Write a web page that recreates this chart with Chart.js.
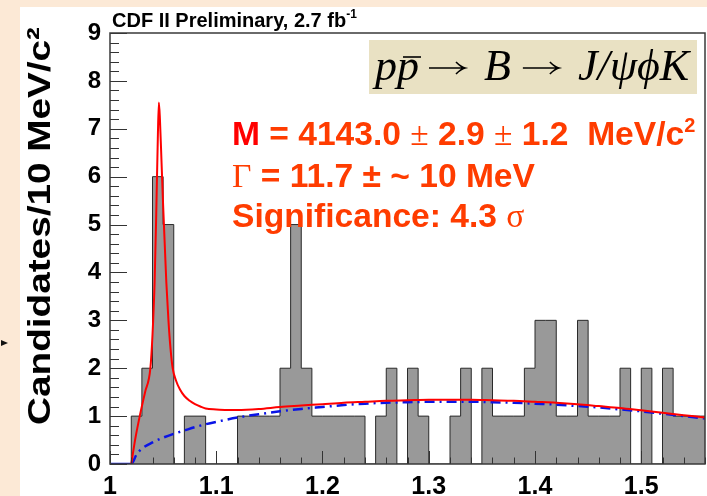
<!DOCTYPE html>
<html>
<head>
<meta charset="utf-8">
<script src="https://cdn.jsdelivr.net/npm/chart.js@4.4.1/dist/chart.umd.min.js"></script>
<style>
  html, body { margin: 0; padding: 0; }
  body { width: 707px; height: 496px; background: #fce9d6; position: relative; overflow: hidden; }
  #panel { position: absolute; left: 20px; top: 7px; width: 687px; height: 489px; background: #fff; }
  #panel canvas { display: block; }
  #arrow { position: absolute; left: 1px; top: 340px; width: 0; height: 0;
           border-left: 7px solid #111; border-top: 3px solid transparent; border-bottom: 3px solid transparent; }
</style>
</head>
<body>
<div id="arrow"></div>
<div id="panel"><canvas id="chart" width="687" height="489" style="width:687px;height:489px"></canvas></div>
<script>
// histogram: lower bin edges (GeV) and candidates per 10 MeV bin
const binLow = [1.00,1.01,1.02,1.03,1.04,1.05,1.06,1.07,1.08,1.09,1.10,1.11,1.12,1.13,1.14,1.15,1.16,1.17,1.18,1.19,
                1.20,1.21,1.22,1.23,1.24,1.25,1.26,1.27,1.28,1.29,1.30,1.31,1.32,1.33,1.34,1.35,1.36,1.37,1.38,1.39,
                1.40,1.41,1.42,1.43,1.44,1.45,1.46,1.47,1.48,1.49,1.50,1.51,1.52,1.53,1.54,1.55];
const candidates = [0,0,1,2,6,5,0,1,1,0,0,0,1,1,1,1,2,5,2,1,
                    1,1,1,1,0,1,2,0,2,1,0,0,1,2,0,2,1,1,1,2,
                    3,3,1,1,3,1,1,1,2,0,2,0,2,1,1,1];

// total fit (red)
const fitMass = [1.020,1.024,1.028,1.033,1.038,1.040,1.042,1.0435,1.045,1.046,
                 1.047,1.0485,1.050,1.0515,1.053,1.055,1.057,1.059,1.062,1.066,
                 1.070,1.075,1.080,1.085,1.090,1.100,1.110,1.120,1.140,1.160,
                 1.180,1.200,1.220,1.240,1.260,1.280,1.300,1.320,1.340,1.360,
                 1.380,1.400,1.420,1.440,1.460,1.480,1.500,1.520,1.540,1.560];
const fitTotal = [0,0.55,1.0,1.5,2.0,2.7,3.8,5.2,6.8,7.55,
                  7.2,6.3,5.4,4.6,3.8,3.0,2.4,2.0,1.75,1.55,
                  1.42,1.32,1.25,1.2,1.16,1.14,1.13,1.13,1.15,1.19,
                  1.22,1.25,1.28,1.3,1.32,1.33,1.34,1.34,1.34,1.33,
                  1.32,1.3,1.28,1.25,1.21,1.17,1.12,1.07,1.02,0.97];

// background shape (blue dash-dot)
const bkgMass = [1.00,1.02,1.025,1.03,1.04,1.05,1.06,1.07,1.08,1.09,1.10,1.12,1.14,1.16,1.18,1.20,1.22,
                 1.24,1.26,1.28,1.30,1.32,1.34,1.36,1.38,1.40,1.42,1.44,1.46,1.48,1.50,1.52,1.54,1.56];
const bkgFit = [0,0,0.2,0.32,0.45,0.55,0.63,0.7,0.77,0.83,0.88,0.97,1.04,1.1,1.15,1.19,1.23,
                1.26,1.28,1.29,1.3,1.3,1.3,1.29,1.28,1.26,1.24,1.21,1.18,1.14,1.1,1.05,1.0,0.95];

const massTicks = [1.0, 1.1, 1.2, 1.3, 1.4, 1.5];
const countTicks = [0, 1, 2, 3, 4, 5, 6, 7, 8, 9];
const yTitle = 'Candidates/10 MeV/c²';

const SANS = "'Liberation Sans', Arial, sans-serif";
const SERIF = "'Liberation Serif', 'Times New Roman', serif";
const RED = '#ff0000', ORANGE = '#ff3c00';

const binWidth = binLow[1] - binLow[0];
const histPoints = binLow.map((x, i) => ({ x, y: candidates[i] }));
histPoints.push({ x: binLow[binLow.length - 1] + binWidth, y: candidates[candidates.length - 1] });

function drawRuns(ctx, x, y, runs) {
  runs.forEach(r => {
    ctx.font = r.font;
    ctx.fillStyle = r.color || '#000';
    ctx.fillText(r.text, x, y + (r.dy || 0));
    x += ctx.measureText(r.text).width + (r.gap || 0);
  });
  return x;
}

function drawArrow(ctx, x1, x2, yy) {
  ctx.beginPath();
  ctx.moveTo(x1, yy); ctx.lineTo(x2, yy);
  ctx.moveTo(x2 - 9, yy - 6); ctx.quadraticCurveTo(x2 - 4, yy - 1, x2, yy);
  ctx.quadraticCurveTo(x2 - 4, yy + 1, x2 - 9, yy + 6);
  ctx.stroke();
}

const rootFrame = {
  id: 'rootFrame',
  afterDraw(chart) {
    const { ctx, chartArea: a, scales: { x, y } } = chart;
    ctx.save();

    // inward ROOT-style ticks
    ctx.strokeStyle = '#333';
    ctx.lineWidth = 1;
    ctx.beginPath();
    for (let k = 0; k <= 45; k++) {
      const py = Math.round(y.getPixelForValue(k * 0.2)) + 0.5;
      const len = k % 5 === 0 ? 17 : 9;
      ctx.moveTo(a.left, py); ctx.lineTo(a.left + len, py);
    }
    for (let k = 0; k <= 28; k++) {
      const px = Math.round(x.getPixelForValue(1 + k * 0.02)) + 0.5;
      const len = k % 5 === 0 ? 13 : 6.5;
      ctx.moveTo(px, a.bottom); ctx.lineTo(px, a.bottom - len);
    }
    ctx.stroke();

    // frame
    ctx.lineWidth = 1.5;
    ctx.strokeStyle = '#3a3a3a';
    ctx.strokeRect(a.left, a.top, a.right - a.left, a.bottom - a.top);

    ctx.textBaseline = 'alphabetic';
    ctx.textAlign = 'left';

    // y title, right-aligned to the top of the axis as ROOT does
    ctx.save();
    ctx.font = 'bold 32px ' + SANS;
    const tw = ctx.measureText(yTitle).width;
    const tlen = (a.bottom - a.top) - 33;
    ctx.translate(30, a.top - 6);
    ctx.rotate(-Math.PI / 2);
    ctx.scale(tlen / tw, 1);
    ctx.textAlign = 'right';
    ctx.fillStyle = '#000';
    ctx.fillText(yTitle, 0, 0);
    ctx.restore();

    // header
    drawRuns(ctx, a.left + 2, a.top - 6, [
      { text: 'CDF II Preliminary, 2.7 fb', font: 'bold 20px ' + SANS },
      { text: '-1', font: 'bold 12px ' + SANS, dy: -9 }
    ]);

    // decay box
    const bx = a.left + 259, by = a.top + 7, bw = 328, bh = 54;
    ctx.fillStyle = '#e9e1c3';
    ctx.fillRect(bx, by, bw, bh);
    const base = by + 40;
    const it = 'italic 44px ' + SERIF;
    ctx.strokeStyle = '#000';
    ctx.lineWidth = 1.6;
    let cx = bx + 6;
    cx = drawRuns(ctx, cx, base, [{ text: 'p', font: it }]);
    const p2 = cx;
    cx = drawRuns(ctx, cx, base, [{ text: 'p', font: it }]);
    ctx.beginPath(); ctx.moveTo(p2 + 6, base - 23); ctx.lineTo(p2 + 24, base - 23); ctx.stroke();
    drawArrow(ctx, cx + 10, cx + 46, base - 12);
    cx = drawRuns(ctx, cx + 65, base, [{ text: 'B', font: it }]);
    drawArrow(ctx, cx + 12, cx + 48, base - 12);
    drawRuns(ctx, cx + 67, base, [{ text: 'J/ψϕK', font: it }]);

    // fit results
    const tx = a.left + 122;
    const b1 = 'bold 33.6px ' + SANS, sym = '33.6px ' + SERIF;
    drawRuns(ctx, tx, a.top + 112, [
      { text: 'M', font: b1, color: RED },
      { text: ' = 4143.0 ', font: b1, color: ORANGE },
      { text: '±', font: sym, color: ORANGE },
      { text: ' 2.9 ', font: b1, color: ORANGE },
      { text: '±', font: sym, color: ORANGE },
      { text: ' 1.2  MeV/c', font: b1, color: ORANGE },
      { text: '2', font: 'bold 20px ' + SANS, color: ORANGE, dy: -13 }
    ]);
    drawRuns(ctx, tx, a.top + 154, [
      { text: 'Γ', font: sym, color: ORANGE },
      { text: ' = 11.7 ± ~ 10 MeV', font: b1, color: ORANGE }
    ]);
    drawRuns(ctx, tx, a.top + 194, [
      { text: 'Significance: 4.3 ', font: b1, color: ORANGE },
      { text: 'σ', font: sym, color: ORANGE }
    ]);
    ctx.restore();
  }
};

new Chart(document.getElementById('chart'), {
  type: 'line',
  data: {
    datasets: [
      {
        label: 'Fit',
        data: fitMass.map((x, i) => ({ x, y: fitTotal[i] })),
        borderColor: RED,
        borderWidth: 2,
        pointRadius: 0,
        cubicInterpolationMode: 'monotone',
        fill: false,
        order: 1
      },
      {
        label: 'Background',
        data: bkgMass.map((x, i) => ({ x, y: bkgFit[i] })),
        borderColor: '#0a14e6',
        borderWidth: 2.5,
        borderDash: [10, 5, 2, 5],
        // below threshold the function sits on zero and reads as a solid line
        segment: { borderDash: c => (c.p0.parsed.y === 0 && c.p1.parsed.y === 0 ? [] : undefined) },
        pointRadius: 0,
        cubicInterpolationMode: 'monotone',
        fill: false,
        order: 2
      },
      {
        label: 'Candidates',
        data: histPoints,
        stepped: true,
        borderColor: '#2a2a2a',
        borderWidth: 1,
        backgroundColor: '#999999',
        fill: 'origin',
        pointRadius: 0,
        order: 3
      }
    ]
  },
  options: {
    responsive: false,
    animation: false,
    layout: { padding: { top: 26, right: 2, left: 0, bottom: 0 } },
    plugins: { legend: { display: false }, tooltip: { enabled: false } },
    scales: {
      x: {
        type: 'linear',
        min: 1.0,
        max: 1.56,
        afterFit: s => { s.height = 32; },
        afterBuildTicks: s => { s.ticks = massTicks.map(v => ({ value: v })); },
        grid: { display: false, drawTicks: false },
        border: { display: false },
        ticks: {
          color: '#000',
          padding: 8,
          font: { family: SANS, size: 25, weight: 'bold' },
          callback: v => (v === 1 ? '1' : v.toFixed(1))
        }
      },
      y: {
        min: 0,
        max: 9,
        afterFit: s => { s.width = 90; },
        afterBuildTicks: s => { s.ticks = countTicks.map(v => ({ value: v })); },
        grid: { display: false, drawTicks: false },
        border: { display: false },
        ticks: {
          color: '#000',
          padding: 9,
          font: { family: SANS, size: 24, weight: 'bold' }
        }
      }
    }
  },
  plugins: [rootFrame]
});
</script>
</body>
</html>
